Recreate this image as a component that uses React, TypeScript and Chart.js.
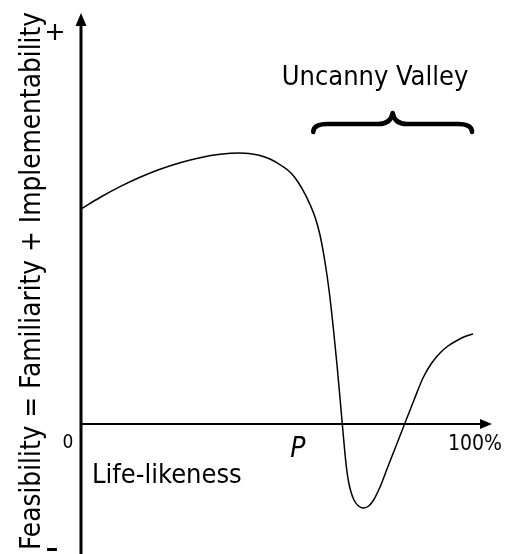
import React, { useEffect, useRef } from "react";
import { Chart, registerables } from "chart.js";

Chart.register(...registerables);

// Life-likeness (%) and feasibility values
const lifeLikeness = [
  0, 4.85, 9.95, 15.05, 20.15, 25.26, 30.36, 35.46, 40.56, 45.15, 48.21, 51.28, 53.57, 55.36,
  57.4, 59.69, 60.97, 62.24, 63.27, 64.29, 65.31, 66.07, 66.84, 67.35, 67.86, 68.37, 68.88,
  69.64, 70.66, 71.94, 73.21, 74.49, 76.28, 78.06, 80.36, 82.65, 84.95, 87.24, 89.29, 91.58,
  93.62, 95.92, 97.96, 100,
];
const feasibility = [
  2.15, 2.265, 2.373, 2.467, 2.547, 2.613, 2.663, 2.697, 2.71, 2.69, 2.65, 2.58, 2.51, 2.42,
  2.28, 2.07, 1.89, 1.62, 1.34, 0.99, 0.59, 0.26, -0.08, -0.3, -0.48, -0.6, -0.68,
  -0.76, -0.815, -0.84, -0.825, -0.77, -0.63, -0.45, -0.22, 0.01, 0.24, 0.46, 0.6, 0.71,
  0.78, 0.835, 0.875, 0.9,
];

const yTitle = "Feasibility = Familiarity + Implementability";
const xTitle = "Life-likeness";
const valleyLabel = "Uncanny Valley";
const xTickLabels = ["0", "P", "100%"];
const xTickValues = [0, 55.6, 100];
const valleyRange = [59, 100];

const FONT = '"DejaVu Sans Condensed", "DejaVu Sans", sans-serif';

export default function App() {
  const ref = useRef<HTMLCanvasElement | null>(null);

  useEffect(() => {
    document.body.style.margin = "0";
    const canvas = ref.current;
    if (!canvas) return;

    const decor = {
      id: "decor",
      afterDraw(chart: any) {
        const ctx = chart.ctx as CanvasRenderingContext2D;
        const xs = chart.scales.x;
        const ys = chart.scales.y;
        const x0 = xs.getPixelForValue(0);
        const y0 = ys.getPixelForValue(0);
        const bottom = chart.height;
        ctx.save();
        ctx.fillStyle = "#000";
        ctx.strokeStyle = "#000";

        // y axis
        ctx.lineWidth = 3;
        ctx.beginPath();
        ctx.moveTo(x0, bottom);
        ctx.lineTo(x0, 24);
        ctx.stroke();
        ctx.beginPath();
        ctx.moveTo(x0, 13);
        ctx.lineTo(x0 - 5.5, 26);
        ctx.lineTo(x0 + 5.5, 26);
        ctx.closePath();
        ctx.fill();

        // x axis
        const xEnd = 492;
        ctx.lineWidth = 2.2;
        ctx.beginPath();
        ctx.moveTo(x0, y0);
        ctx.lineTo(xEnd - 10, y0);
        ctx.stroke();
        ctx.beginPath();
        ctx.moveTo(xEnd, y0);
        ctx.lineTo(xEnd - 12, y0 - 5);
        ctx.lineTo(xEnd - 12, y0 + 5);
        ctx.closePath();
        ctx.fill();

        // tick labels
        ctx.textBaseline = "alphabetic";
        ctx.textAlign = "center";
        ctx.font = `19px ${FONT}`;
        ctx.fillText(xTickLabels[0], x0 - 13, 448);
        ctx.font = `italic 28px ${FONT}`;
        ctx.fillText(xTickLabels[1], xs.getPixelForValue(xTickValues[1]) - 1, 457);
        ctx.font = `21px ${FONT}`;
        ctx.fillText(xTickLabels[2], xs.getPixelForValue(xTickValues[2]) + 2, 450);

        // axis titles
        ctx.font = `27px ${FONT}`;
        ctx.textAlign = "left";
        ctx.fillText(xTitle, 92, 483);
        ctx.textAlign = "center";
        ctx.fillText(valleyLabel, 375, 85);

        ctx.save();
        ctx.font = `27.7px ${FONT}`;
        ctx.translate(40, 281);
        ctx.rotate(-Math.PI / 2);
        ctx.fillText(yTitle, 0, 0);
        ctx.restore();

        // + and -
        ctx.lineWidth = 2.2;
        ctx.beginPath();
        ctx.moveTo(47, 32);
        ctx.lineTo(63, 32);
        ctx.moveTo(55, 24);
        ctx.lineTo(55, 40);
        ctx.stroke();
        ctx.fillRect(47, 548, 10, 3);

        // brace
        const bl = xs.getPixelForValue(valleyRange[0]) + 1;
        const br = xs.getPixelForValue(valleyRange[1]) - 1;
        const bm = (bl + br) / 2;
        const by = 124;
        ctx.lineWidth = 4.5;
        ctx.lineCap = "round";
        ctx.lineJoin = "round";
        ctx.beginPath();
        ctx.moveTo(bl, by + 8);
        ctx.quadraticCurveTo(bl, by, bl + 14, by);
        ctx.lineTo(bm - 14, by);
        ctx.quadraticCurveTo(bm - 2, by, bm, by - 11);
        ctx.quadraticCurveTo(bm + 2, by, bm + 14, by);
        ctx.lineTo(br - 14, by);
        ctx.quadraticCurveTo(br, by, br, by + 8);
        ctx.stroke();

        ctx.restore();
      },
    };

    const chart = new Chart(canvas, {
      type: "line",
      data: {
        datasets: [
          {
            data: lifeLikeness.map((x, i) => ({ x, y: feasibility[i] })),
            borderColor: "#000",
            borderWidth: 1.5,
            pointRadius: 0,
            fill: false,
            cubicInterpolationMode: "monotone",
            clip: false as any,
          },
        ],
      },
      options: {
        animation: false,
        responsive: false,
        layout: { padding: { left: 81, right: 33, top: 0, bottom: 0 } },
        plugins: { legend: { display: false }, tooltip: { enabled: false } },
        scales: {
          x: { type: "linear", min: 0, max: 100, display: false },
          y: { type: "linear", min: -1.3, max: 4.24, display: false },
        },
      },
      plugins: [decor],
    });
    return () => chart.destroy();
  }, []);

  return (
    <div style={{ width: 506, height: 554, background: "#fff" }}>
      <canvas ref={ref} width={506} height={554} />
    </div>
  );
}
